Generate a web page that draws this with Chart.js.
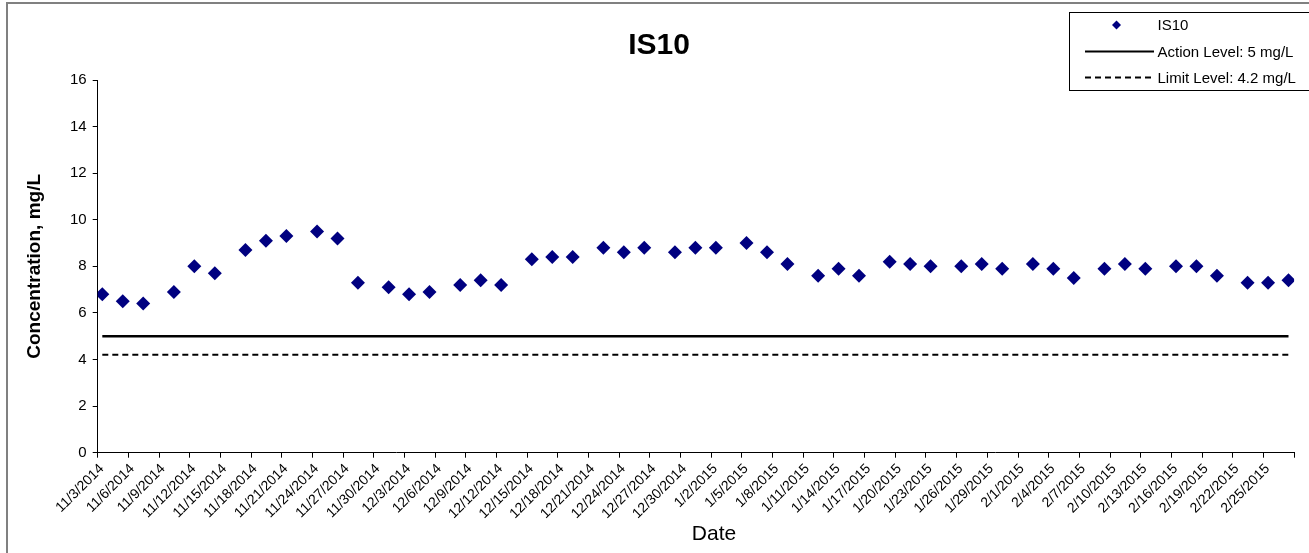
<!DOCTYPE html>
<html>
<head>
<meta charset="utf-8">
<script src="https://cdn.jsdelivr.net/npm/chart.js@4/dist/chart.umd.min.js"></script>
<style>
  html, body { margin: 0; padding: 0; background: #fff; }
  #wrap { position: relative; width: 1309px; height: 553px; }
</style>
</head>
<body>
<div id="wrap"><canvas id="chart" width="1309" height="553"></canvas></div>
<script>
// sample dates (M/W/F) and IS10 readings, mg/L
const sampleDates = [
  '11/3/2014', '11/5/2014', '11/7/2014', '11/10/2014', '11/12/2014', '11/14/2014',
  '11/17/2014', '11/19/2014', '11/21/2014', '11/24/2014', '11/26/2014', '11/28/2014',
  '12/1/2014', '12/3/2014', '12/5/2014', '12/8/2014', '12/10/2014', '12/12/2014',
  '12/15/2014', '12/17/2014', '12/19/2014', '12/22/2014', '12/24/2014', '12/26/2014',
  '12/29/2014', '12/31/2014', '1/2/2015', '1/5/2015', '1/7/2015', '1/9/2015',
  '1/12/2015', '1/14/2015', '1/16/2015', '1/19/2015', '1/21/2015', '1/23/2015',
  '1/26/2015', '1/28/2015', '1/30/2015', '2/2/2015', '2/4/2015', '2/6/2015',
  '2/9/2015', '2/11/2015', '2/13/2015', '2/16/2015', '2/18/2015', '2/20/2015',
  '2/23/2015', '2/25/2015', '2/27/2015'
];
const is10 = [
  6.8, 6.5, 6.4, 6.9, 8.0, 7.7,
  8.7, 9.1, 9.3, 9.5, 9.2, 7.3,
  7.1, 6.8, 6.9, 7.2, 7.4, 7.2,
  8.3, 8.4, 8.4, 8.8, 8.6, 8.8,
  8.6, 8.8, 8.8, 9.0, 8.6, 8.1,
  7.6, 7.9, 7.6, 8.2, 8.1, 8.0,
  8.0, 8.1, 7.9, 8.1, 7.9, 7.5,
  7.9, 8.1, 7.9, 8.0, 8.0, 7.6,
  7.3, 7.3, 7.4
];
const sampleHour = 10.8; // samples taken late morning
const actionLevel = 5;
const limitLevel = 4.2;
const axisStart = '11/3/2014';
const axisEnd = '2/28/2015';
const tickStepDays = 3;
const yTicks = [0, 2, 4, 6, 8, 10, 12, 14, 16];

const DAY = 86400000;
function parseDate(s) {
  const [m, d, y] = s.split('/').map(Number);
  return Date.UTC(y, m - 1, d);
}
const t0 = parseDate(axisStart);
const dayOf = s => (parseDate(s) - t0) / DAY;
const fmtDay = v => {
  const dt = new Date(t0 + v * DAY);
  return (dt.getUTCMonth() + 1) + '/' + dt.getUTCDate() + '/' + dt.getUTCFullYear();
};

const xMax = dayOf(axisEnd);
const pts = sampleDates.map((d, i) => ({ x: dayOf(d) + sampleHour / 24, y: is10[i] }));
const first = pts[0].x, last = pts[pts.length - 1].x;

const FONT = "'Liberation Sans', Arial, sans-serif";

// frame, title, x title and legend box drawn on the canvas
const decor = {
  id: 'decor',
  beforeDraw(chart) {
    const c = chart.ctx;
    c.save();
    c.fillStyle = '#fff';
    c.fillRect(0, 0, chart.width, chart.height);
    c.strokeStyle = '#808080';
    c.lineWidth = 2;
    c.beginPath();
    c.moveTo(7, chart.height); c.lineTo(7, 3); c.lineTo(chart.width, 3);
    c.stroke();
    c.restore();
  },
  afterDraw(chart) {
    const c = chart.ctx;
    c.save();
    c.fillStyle = '#000';
    c.font = 'bold 30px ' + FONT;
    c.textAlign = 'center';
    c.textBaseline = 'middle';
    c.fillText('IS10', 659, 46);

    c.font = '21px ' + FONT;
    c.fillText('Date', 714, 534);

    // legend
    c.fillStyle = '#fff';
    c.fillRect(1069.5, 12.5, 260, 78);
    c.strokeStyle = '#000';
    c.lineWidth = 1;
    c.strokeRect(1069.5, 12.5, 260, 78);
    c.font = '15px ' + FONT;
    c.textAlign = 'left';
    const ds = chart.data.datasets;
    const rows = [25, 51.5, 77.5];
    ds.forEach((d, i) => {
      const y = rows[i];
      if (i === 0) {
        c.fillStyle = d.backgroundColor;
        c.beginPath();
        c.moveTo(1116.5 - 4.5, y); c.lineTo(1116.5, y - 4.5);
        c.lineTo(1116.5 + 4.5, y); c.lineTo(1116.5, y + 4.5);
        c.closePath(); c.fill();
      } else {
        c.strokeStyle = '#000';
        c.lineWidth = 2;
        c.setLineDash(d.borderDash || []);
        c.beginPath(); c.moveTo(1085, y); c.lineTo(1154, y); c.stroke();
        c.setLineDash([]);
      }
      c.fillStyle = '#000';
      c.fillText(d.label, 1157.5, y + 1);
    });
    c.restore();
  }
};

new Chart(document.getElementById('chart'), {
  type: 'scatter',
  data: {
    datasets: [
      {
        label: 'IS10',
        data: pts,
        pointStyle: 'rectRot',
        pointRadius: 7,
        backgroundColor: '#000080',
        borderColor: '#000080',
        borderWidth: 0,
        showLine: false
      },
      {
        label: 'Action Level: ' + actionLevel + ' mg/L',
        data: [{ x: first, y: actionLevel }, { x: last, y: actionLevel }],
        type: 'line',
        borderColor: '#000',
        borderWidth: 2.5,
        pointRadius: 0,
        fill: false
      },
      {
        label: 'Limit Level: ' + limitLevel + ' mg/L',
        data: [{ x: first, y: limitLevel }, { x: last, y: limitLevel }],
        type: 'line',
        borderColor: '#000',
        borderWidth: 2,
        borderDash: [6, 4],
        pointRadius: 0,
        fill: false
      }
    ]
  },
  options: {
    responsive: false,
    animation: false,
    devicePixelRatio: 1,
    layout: { padding: { left: 0, right: 11.7, top: 80, bottom: 0 } },
    plugins: {
      legend: { display: false },
      title: { display: false },
      tooltip: { enabled: false }
    },
    scales: {
      x: {
        type: 'linear',
        min: 0,
        max: xMax,
        afterFit(s) { s.height = 100.3; },
        grid: { drawOnChartArea: false, drawTicks: true, tickLength: 5, color: '#000', tickWidth: 1 },
        border: { color: '#000', width: 1 },
        ticks: {
          stepSize: tickStepDays,
          autoSkip: false,
          maxRotation: 45,
          minRotation: 45,
          padding: 3,
          labelOffset: 4,
          color: '#000',
          font: { family: FONT, size: 14 },
          callback: v => (v >= xMax ? '' : fmtDay(v))
        }
      },
      y: {
        min: 0,
        max: 16,
        afterFit(s) { s.width = 97.7; },
        afterBuildTicks(s) { s.ticks = yTicks.map(v => ({ value: v })); },
        grid: { drawOnChartArea: false, drawTicks: true, tickLength: 5, color: '#000' },
        border: { color: '#000', width: 1 },
        ticks: {
          padding: 6,
          color: '#000',
          font: { family: FONT, size: 15 }
        },
        title: {
          display: true,
          text: 'Concentration, mg/L',
          color: '#000',
          font: { family: FONT, size: 19, weight: 'bold' },
          padding: { top: 23.6, bottom: 0 }
        }
      }
    }
  },
  plugins: [decor]
});
</script>
</body>
</html>
